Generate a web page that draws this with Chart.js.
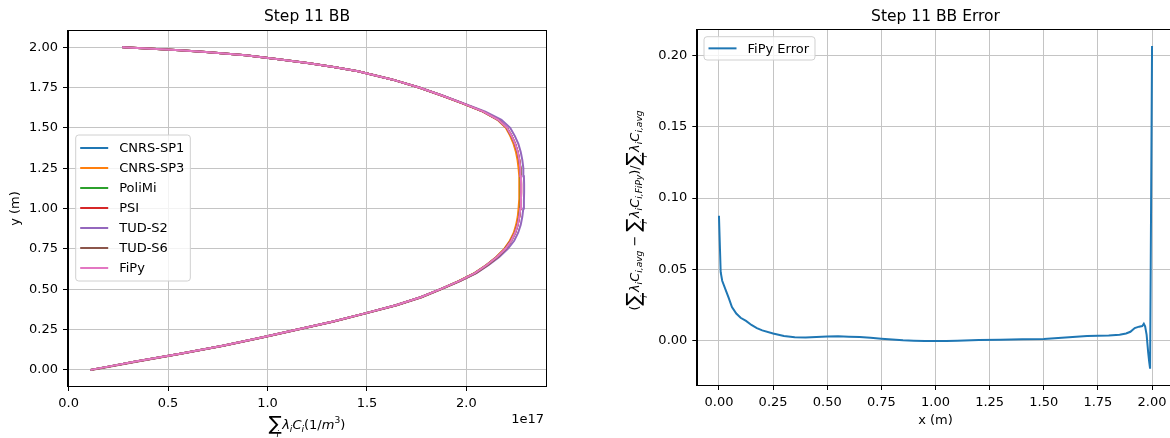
<!DOCTYPE html>
<html>
<head>
<meta charset="utf-8">
<script src="https://cdn.jsdelivr.net/npm/chart.js@4.4.0/dist/chart.umd.min.js"></script>
<style>
html,body{margin:0;padding:0;background:#fff;width:1170px;height:438px;overflow:hidden;position:relative}
#c1{position:absolute;left:0;top:0;width:585px;height:438px}
#c2{position:absolute;left:585px;top:0;width:600px;height:438px}
</style>
</head>
<body>
<canvas id="c1" width="585" height="438"></canvas>
<canvas id="c2" width="600" height="438"></canvas>
<script>
// ---------------- DATA ----------------
// Left chart: sum(lambda_i C_i) in units of 1e17 (1/m^3) vs y position (m)
const seriesNames = ["CNRS-SP1", "CNRS-SP3", "PoliMi", "PSI", "TUD-S2", "TUD-S6", "FiPy"];
const seriesColors = ["#1f77b4", "#ff7f0e", "#2ca02c", "#d62728", "#9467bd", "#8c564b", "#e377c2"];
const yPos = [0.00,0.02,0.05,0.10,0.15,0.20,0.25,0.30,0.35,0.40,0.45,0.50,0.55,0.60,0.65,0.70,0.75,0.80,0.85,0.90,0.95,1.00,1.05,1.10,1.15,1.20,1.25,1.30,1.35,1.40,1.45,1.50,1.55,1.60,1.65,1.70,1.75,1.80,1.85,1.875,1.90,1.925,1.95,1.97,1.98,1.99,2.00];
const cnrsSP1 = [0.11,0.20,0.33,0.56,0.775,0.97,1.15,1.33,1.49,1.645,1.77,1.87,1.962,2.042,2.102,2.152,2.193,2.222,2.243,2.256,2.264,2.269,2.272,2.273,2.273,2.272,2.269,2.264,2.256,2.244,2.226,2.203,2.160,2.085,1.985,1.877,1.762,1.625,1.455,1.340,1.210,1.055,0.890,0.690,0.560,0.420,0.27];
const cnrsSP3 = [0.11,0.20,0.33,0.56,0.775,0.97,1.15,1.33,1.49,1.645,1.77,1.87,1.960,2.040,2.100,2.150,2.190,2.218,2.238,2.250,2.258,2.262,2.265,2.266,2.266,2.265,2.262,2.257,2.249,2.237,2.220,2.198,2.156,2.082,1.982,1.875,1.761,1.625,1.455,1.340,1.210,1.055,0.890,0.690,0.560,0.420,0.27];
const poliMi = [0.11,0.20,0.33,0.56,0.775,0.97,1.15,1.33,1.49,1.645,1.77,1.87,1.962,2.042,2.102,2.153,2.194,2.223,2.244,2.257,2.265,2.270,2.273,2.274,2.274,2.273,2.270,2.265,2.257,2.244,2.226,2.203,2.160,2.085,1.985,1.877,1.762,1.625,1.455,1.340,1.210,1.055,0.890,0.690,0.560,0.420,0.27];
const psi = [0.11,0.20,0.33,0.56,0.775,0.97,1.15,1.33,1.49,1.645,1.77,1.87,1.963,2.043,2.103,2.154,2.195,2.224,2.245,2.258,2.266,2.271,2.274,2.275,2.275,2.274,2.271,2.266,2.258,2.245,2.227,2.204,2.161,2.085,1.985,1.877,1.762,1.625,1.455,1.340,1.210,1.055,0.890,0.690,0.560,0.420,0.27];
const tudS2 = [0.11,0.20,0.33,0.56,0.775,0.97,1.15,1.33,1.49,1.645,1.77,1.87,1.966,2.050,2.112,2.165,2.208,2.240,2.260,2.273,2.281,2.286,2.289,2.290,2.290,2.289,2.286,2.281,2.273,2.261,2.243,2.220,2.176,2.095,1.990,1.879,1.763,1.625,1.455,1.340,1.210,1.055,0.890,0.690,0.560,0.420,0.27];
const tudS6 = [0.12,0.21,0.34,0.565,0.78,0.975,1.155,1.335,1.495,1.65,1.775,1.875,1.968,2.048,2.108,2.158,2.198,2.226,2.246,2.258,2.266,2.271,2.274,2.275,2.275,2.274,2.271,2.266,2.258,2.245,2.227,2.204,2.160,2.084,1.984,1.876,1.761,1.625,1.455,1.340,1.210,1.055,0.890,0.690,0.560,0.420,0.28];
const fipy = [0.11,0.20,0.33,0.56,0.775,0.97,1.15,1.33,1.49,1.645,1.77,1.87,1.962,2.042,2.102,2.153,2.196,2.225,2.245,2.258,2.266,2.271,2.274,2.275,2.275,2.274,2.271,2.266,2.258,2.245,2.227,2.204,2.160,2.085,1.985,1.877,1.762,1.625,1.455,1.340,1.210,1.055,0.890,0.690,0.560,0.420,0.27];
const seriesX = [cnrsSP1, cnrsSP3, poliMi, psi, tudS2, tudS6, fipy];
const leftXTicks = [0.0, 0.5, 1.0, 1.5, 2.0];
const leftYTicks = [0.00, 0.25, 0.50, 0.75, 1.00, 1.25, 1.50, 1.75, 2.00];

// Right chart: FiPy relative error vs x (m)
const errX = [0.000,0.008,0.015,0.030,0.045,0.060,0.080,0.100,0.125,0.150,0.175,0.200,0.250,0.300,0.350,0.400,0.450,0.500,0.550,0.600,0.650,0.700,0.750,0.800,0.850,0.900,0.950,1.000,1.050,1.100,1.200,1.300,1.400,1.500,1.550,1.600,1.650,1.700,1.750,1.800,1.850,1.880,1.900,1.920,1.940,1.955,1.962,1.968,1.975,1.982,1.987,1.991,2.000];
const errY = [0.0875,0.0480,0.0420,0.0360,0.0300,0.0235,0.0190,0.0160,0.0138,0.0110,0.0088,0.0072,0.0050,0.0032,0.0023,0.0022,0.0026,0.0029,0.0030,0.0028,0.0025,0.0020,0.0014,0.0008,0.0003,0.0000,-0.0002,-0.0003,-0.0002,0.0000,0.0004,0.0007,0.0009,0.0011,0.0016,0.0022,0.0028,0.0032,0.0034,0.0036,0.0042,0.0050,0.0062,0.0088,0.0098,0.0102,0.0118,0.0100,0.0040,-0.0080,-0.0150,-0.0197,0.2065];
const errLabel = "FiPy Error";
const rightXTicks = [0.00, 0.25, 0.50, 0.75, 1.00, 1.25, 1.50, 1.75, 2.00];
const rightYTicks = [0.00, 0.05, 0.10, 0.15, 0.20];

// ---------------- RENDERING ----------------
const FONT = '"DejaVu Sans", "Liberation Sans", sans-serif';
Chart.defaults.font.family = FONT;
Chart.defaults.font.size = 13;
Chart.defaults.color = '#000';

function drawMath(ctx, segs, cx, cy, base, rot) {
  ctx.save();
  ctx.translate(cx, cy);
  ctx.rotate(rot || 0);
  let w = 0;
  const items = [];
  for (const s of segs) {
    const size = base * (s.s || 1);
    const font = (s.it ? 'italic ' : '') + size + 'px ' + FONT;
    ctx.font = font;
    const mw = ctx.measureText(s.t).width;
    const x = w + (s.dx || 0) * base;
    items.push({t: s.t, font, x, dy: (s.dy || 0) * base});
    if (!s.na) w = x + mw;
  }
  ctx.textAlign = 'left';
  ctx.textBaseline = 'alphabetic';
  ctx.fillStyle = '#000';
  for (const it of items) {
    ctx.font = it.font;
    ctx.fillText(it.t, it.x - w / 2, it.dy + base * 0.36);
  }
  ctx.restore();
}

function drawLegend(ctx, chart, left, top, rowH) {
  const ds = chart.data.datasets;
  ctx.save();
  ctx.font = '13px ' + FONT;
  let maxW = 0;
  ds.forEach(d => { maxW = Math.max(maxW, ctx.measureText(d.label).width); });
  const lineStart = left + 4.5, lineLen = 28, textStart = lineStart + lineLen + 11;
  const w = textStart + maxW + 6 - left;
  const h = ds.length * rowH + 6;
  const r = 3;
  ctx.beginPath();
  ctx.moveTo(left + r, top);
  ctx.arcTo(left + w, top, left + w, top + h, r);
  ctx.arcTo(left + w, top + h, left, top + h, r);
  ctx.arcTo(left, top + h, left, top, r);
  ctx.arcTo(left, top, left + w, top, r);
  ctx.closePath();
  ctx.fillStyle = 'rgba(255,255,255,0.8)';
  ctx.fill();
  ctx.strokeStyle = '#d0d0d0';
  ctx.lineWidth = 1;
  ctx.stroke();
  ds.forEach((d, i) => {
    const cy = top + 3 + rowH * (i + 0.5);
    ctx.strokeStyle = d.borderColor;
    ctx.lineWidth = 2;
    ctx.beginPath();
    ctx.moveTo(lineStart, cy);
    ctx.lineTo(lineStart + lineLen, cy);
    ctx.stroke();
    ctx.fillStyle = '#000';
    ctx.textAlign = 'left';
    ctx.textBaseline = 'middle';
    ctx.fillText(d.label, textStart, cy + 1);
  });
  ctx.restore();
}

function spines(ctx, ca) {
  ctx.save();
  ctx.strokeStyle = '#000';
  ctx.lineWidth = 1;
  const l = Math.round(ca.left) - 0.5, t = Math.round(ca.top) - 0.5;
  const r = Math.round(ca.right) + 0.5, b = Math.round(ca.bottom) + 0.5;
  ctx.strokeRect(l, t, r - l, b - t);
  ctx.restore();
}

function axisCfg(min, max, ticks, digits, fitProp, fitVal) {
  return {
    type: 'linear', min, max,
    afterBuildTicks: s => { s.ticks = ticks.map(v => ({value: v})); },
    afterFit: s => { s[fitProp] = fitVal; },
    grid: {color: '#c4c4c4', lineWidth: 1, drawTicks: true, tickLength: 5, tickColor: '#000', tickWidth: 1},
    border: {display: true, color: '#000', width: 1},
    ticks: {padding: 5, autoSkip: false, maxRotation: 0, minRotation: 0, color: '#000', font: {size: 13},
            callback: v => Number(v).toFixed(digits)}
  };
}

// Left chart
new Chart(document.getElementById('c1'), {
  type: 'scatter',
  data: {
    datasets: seriesNames.map((n, i) => ({
      label: n,
      data: yPos.map((y, j) => ({x: seriesX[i][j], y})),
      showLine: true, borderColor: seriesColors[i], backgroundColor: seriesColors[i],
      borderWidth: 2, pointRadius: 0, tension: 0, fill: false, order: seriesNames.length - i
    }))
  },
  options: {
    responsive: false, animation: false, events: [],
    layout: {padding: {left: 0, top: 31, right: 39, bottom: 0}, autoPadding: false},
    plugins: {legend: {display: false}, tooltip: {enabled: false}},
    scales: {
      x: axisCfg(-0.003, 2.40, leftXTicks, 1, 'height', 52),
      y: axisCfg(-0.1, 2.1, leftYTicks, 2, 'width', 68)
    }
  },
  plugins: [{
    id: 'decorL',
    afterDatasetsDraw(chart) { spines(chart.ctx, chart.chartArea); },
    afterDraw(chart) {
      const ctx = chart.ctx, ca = chart.chartArea;
      ctx.save();
      ctx.fillStyle = '#000';
      ctx.font = '15.5px ' + FONT;
      ctx.textAlign = 'center'; ctx.textBaseline = 'middle';
      ctx.fillText('Step 11 BB', (ca.left + ca.right) / 2, 17);
      ctx.font = '13px ' + FONT;
      ctx.textAlign = 'right';
      ctx.fillText('1e17', ca.right - 2, 420);
      ctx.translate(16, (ca.top + ca.bottom) / 2);
      ctx.rotate(-Math.PI / 2);
      ctx.textAlign = 'center';
      ctx.fillText('y (m)', 0, 0);
      ctx.restore();
      drawMath(ctx, [
        {t: '\u2211', s: 1.5, dy: 0.1},
        {t: 'i', it: 1, s: 0.65, dy: 0.62, dx: -0.42, na: 1},
        {t: '\u03bb', it: 1, dx: 0.02},
        {t: 'i', it: 1, s: 0.7, dy: 0.25},
        {t: 'C', it: 1},
        {t: 'i', it: 1, s: 0.7, dy: 0.25},
        {t: '(1/'},
        {t: 'm', it: 1},
        {t: '3', s: 0.7, dy: -0.42},
        {t: ')'}
      ], (ca.left + ca.right) / 2, 424, 13, 0);
      drawLegend(ctx, chart, 75.7, 135, 20);
    }
  }]
});

// Right chart
new Chart(document.getElementById('c2'), {
  type: 'scatter',
  data: {
    datasets: [{
      label: errLabel,
      data: errX.map((x, j) => ({x, y: errY[j]})),
      showLine: true, borderColor: '#1f77b4', backgroundColor: '#1f77b4',
      borderWidth: 2, pointRadius: 0, tension: 0, fill: false
    }]
  },
  options: {
    responsive: false, animation: false, events: [],
    layout: {padding: {left: 0, top: 30, right: 11.3, bottom: 0}, autoPadding: false},
    plugins: {legend: {display: false}, tooltip: {enabled: false}},
    scales: {
      x: axisCfg(-0.1, 2.1, rightXTicks, 2, 'height', 53),
      y: axisCfg(-0.0311, 0.2178, rightYTicks, 2, 'width', 112.3)
    }
  },
  plugins: [{
    id: 'decorR',
    afterDatasetsDraw(chart) { spines(chart.ctx, chart.chartArea); },
    afterDraw(chart) {
      const ctx = chart.ctx, ca = chart.chartArea;
      ctx.save();
      ctx.fillStyle = '#000';
      ctx.font = '15.5px ' + FONT;
      ctx.textAlign = 'center'; ctx.textBaseline = 'middle';
      ctx.fillText('Step 11 BB Error', (ca.left + ca.right) / 2, 17);
      ctx.font = '13px ' + FONT;
      ctx.fillText('x (m)', (ca.left + ca.right) / 2, 421);
      ctx.restore();
      const sumI = [
        {t: '\u2211', s: 1.5, dy: 0.1},
        {t: 'i', it: 1, s: 0.65, dy: 0.62, dx: -0.42, na: 1},
        {t: '\u03bb', it: 1, dx: 0.02},
        {t: 'i', it: 1, s: 0.7, dy: 0.25},
        {t: 'C', it: 1}
      ];
      drawMath(ctx, [
        {t: '('},
        ...sumI,
        {t: 'i,avg', it: 1, s: 0.7, dy: 0.25},
        {t: ' \u2212 '},
        ...sumI,
        {t: 'i,FiPy', it: 1, s: 0.7, dy: 0.25},
        {t: ')/'},
        ...sumI,
        {t: 'i,avg', it: 1, s: 0.7, dy: 0.25}
      ], 49, (ca.top + ca.bottom) / 2 + 3, 13, -Math.PI / 2);
      drawLegend(ctx, chart, 704 - 585, 36.7, 17.3);
    }
  }]
});
</script>
</body>
</html>
